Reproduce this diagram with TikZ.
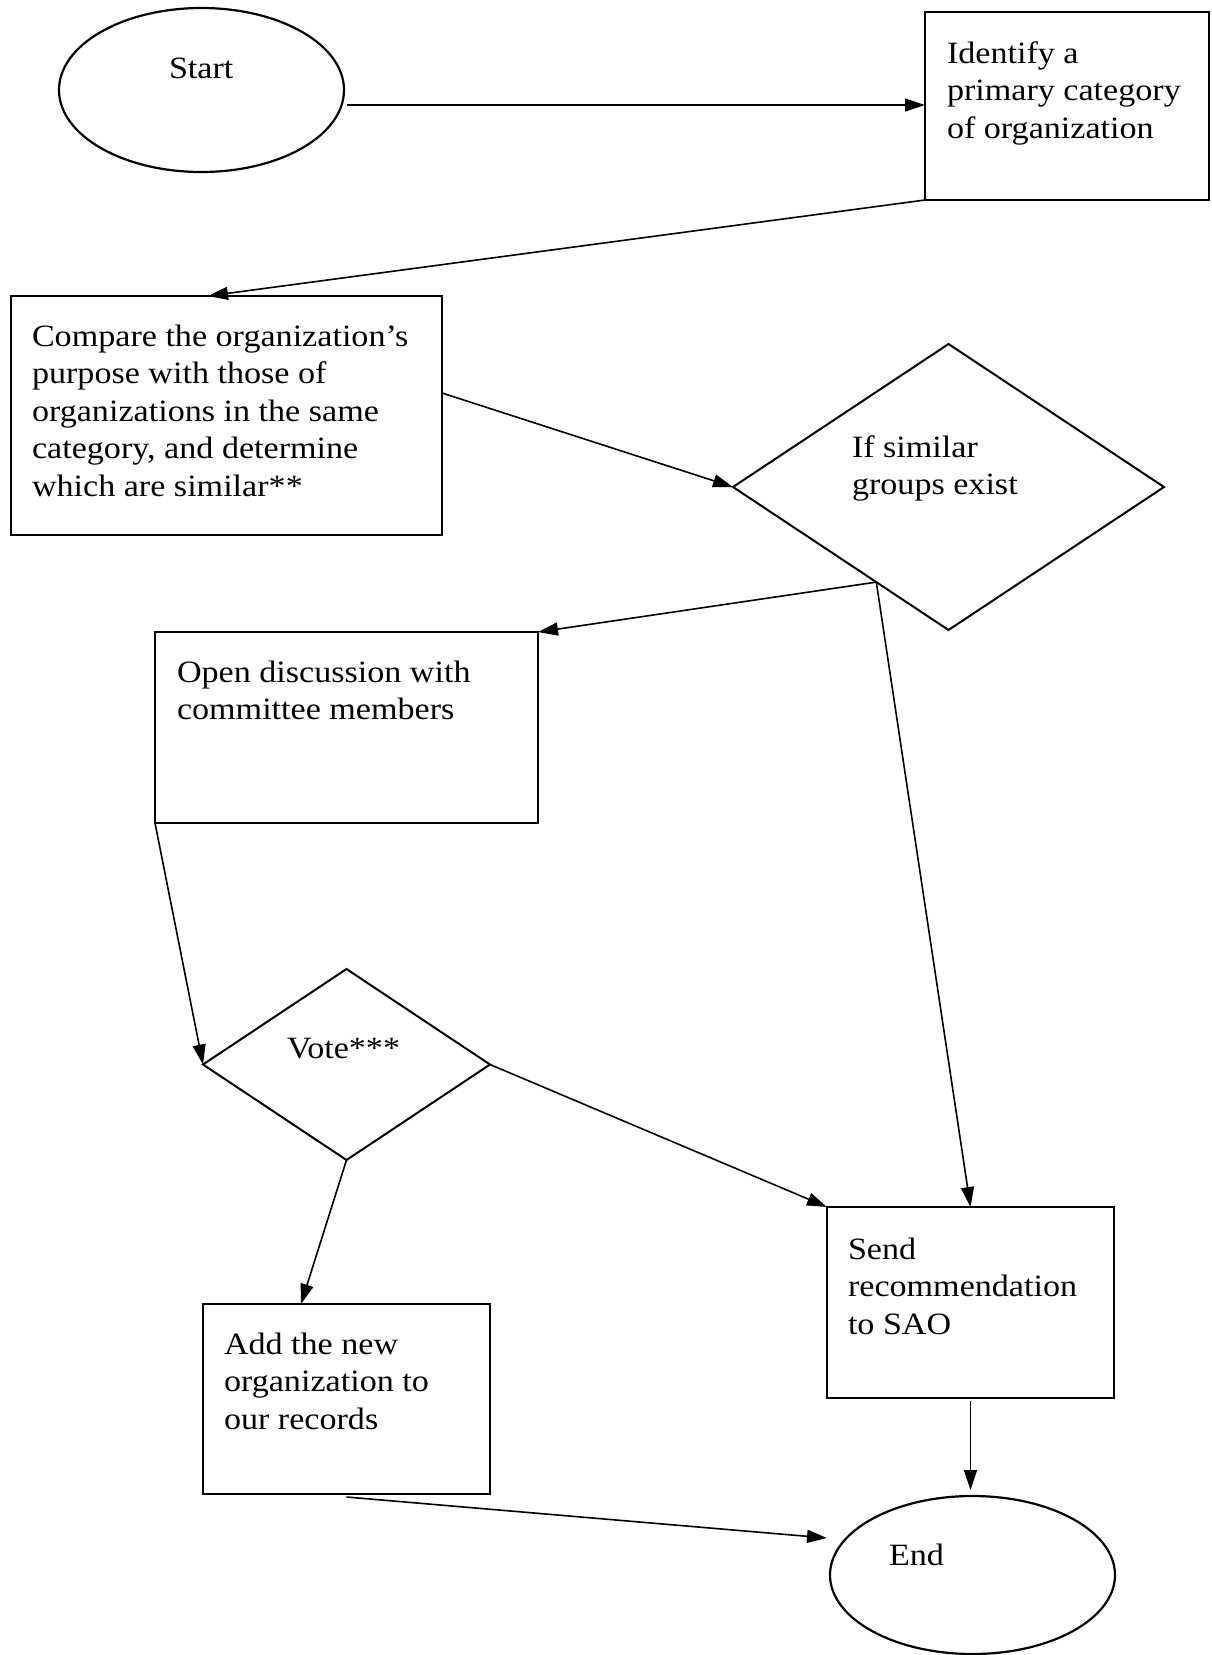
\documentclass[tikz,border=0pt]{standalone}
\usepackage{fontspec}
\setmainfont{Liberation Serif}[FakeStretch=1.1]
\usetikzlibrary{shapes.geometric,arrows.meta,calc}
\newcommand\tline[1]{\hbox{#1}}
\newcommand\tblock[1]{\vtop{\baselineskip=37.5pt\lineskiplimit=0pt #1}}
\tikzset{
  shp/.style={draw, line width=2pt, inner sep=0pt, outer sep=0pt},
  box/.style={shp, rectangle, line width=2.4pt},
  oval/.style={shp, ellipse, line width=2.2pt},
  dia/.style={shp, diamond},
  conn/.style={line width=1.6pt},
  arr/.style={conn, -{Triangle[length=20pt,width=13pt]}},
  lbl/.style={inner sep=0pt, outer sep=0pt, anchor=base west, font=\fontsize{31}{37.5}\selectfont},
}
\begin{document}
\begin{tikzpicture}[x=1pt,y=-1pt]
\useasboundingbox[fill=white] (0,0) rectangle (1211,1655);

% shapes
\node[oval, minimum width=285pt, minimum height=164pt] (start) at (201.5,90) {};
\node[box, minimum width=284pt, minimum height=188pt] (identify) at (1067,106) {};
\node[box, minimum width=431pt, minimum height=239pt] (compare) at (226.5,415.5) {};
\node[dia, minimum width=431pt, minimum height=286pt] (sim) at (948.5,487) {};
\node[box, minimum width=383pt, minimum height=191pt] (open) at (346.5,727.5) {};
\node[dia, minimum width=287pt, minimum height=191pt] (vote) at (346.5,1064.5) {};
\node[box, minimum width=287pt, minimum height=191pt] (send) at (970.5,1302.5) {};
\node[box, minimum width=287pt, minimum height=190pt] (add) at (346.5,1399) {};
\node[oval, minimum width=285pt, minimum height=158pt] (end) at (972.5,1575) {};

% texts
\node[lbl] (tstart) at (169,78) {Start};
\node[lbl] (tident) at (947,63) {\tblock{\tline{Identify a}\tline{primary category}\tline{of organization}}};
\node[lbl] (tcomp) at (32,346) {\tblock{\tline{Compare the organization’s}\tline{purpose with those of}\tline{organizations in the same}\tline{category, and determine}\tline{which are similar**}}};
\node[lbl] (tsim) at (852,457) {\tblock{\tline{If similar}\tline{groups exist}}};
\node[lbl] (topen) at (177,682) {\tblock{\tline{Open discussion with}\tline{committee members}}};
\node[lbl] (tvote) at (287,1058) {Vote***};
\node[lbl] (tsend) at (848,1259) {\tblock{\tline{Send}\tline{recommendation}\tline{to SAO}}};
\node[lbl] (tadd) at (224,1354) {\tblock{\tline{Add the new}\tline{organization to}\tline{our records}}};
\node[lbl] (tend) at (889,1565) {End};

% connectors
\coordinate (br) at ($(sim.west)!0.665!(sim.south)$);
\draw[arr] ([shift={(3,15)}]start.east) coordinate (s1) -- (s1 -| identify.west);
\draw[arr] (identify.south west) -- ([xshift=197pt]compare.north west);
\draw[arr] ([shift={(0,-22.5)}]compare.east) -- (sim.west);
\draw[arr] (br) -- (open.north east);
\draw[arr] (br) -- (send.north);
\draw[arr] (open.south west) -- (vote.west);
\draw[arr] (vote.east) -- (send.north west);
\draw[arr] (vote.south) -- ([xshift=-45.5pt]add.north);
\draw[arr] ([shift={(0,3)}]add.south) -- ([shift={(-3,-37)}]end.west);
\draw[arr] ([shift={(0,3)}]send.south) coordinate (s2) -- ([shift={(0,-6)}]s2 |- end.north);
\end{tikzpicture}
\end{document}
